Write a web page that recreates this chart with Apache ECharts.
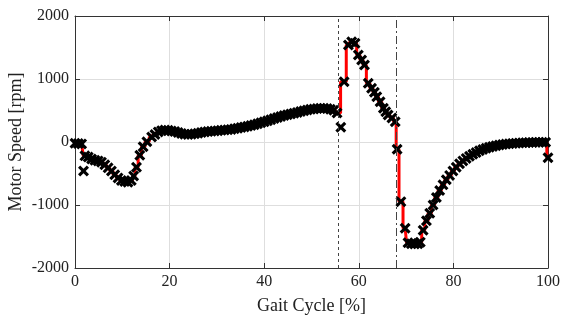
<!DOCTYPE html>
<html>
<head>
<meta charset="utf-8">
<script src="https://cdn.jsdelivr.net/npm/echarts@6/dist/echarts.min.js"></script>
<style>
  html, body { margin: 0; padding: 0; background: #fff; }
  #chart { width: 561px; height: 316px; }
</style>
</head>
<body>
<div id="chart"></div>
<script>
// gait cycle [%] of each sample
const gaitCycle = [
  0, 0.7, 1.4, 2.1, 2.8, 3.5, 4.2, 4.9, 5.6, 6.3, 7.0, 7.7, 8.4, 9.1, 9.8, 10.5, 11.2, 11.9,
  12.4, 13.0, 13.7, 14.4, 15.2, 16.2, 16.9, 17.6, 18.3, 19.0, 19.7, 20.4, 21.1, 21.8, 22.5,
  23.2, 23.9, 24.6, 25.3, 26.0, 26.7, 27.4, 28.1, 28.8, 29.5, 30.2, 30.9, 31.6, 32.3, 33.0,
  33.7, 34.4, 35.1, 35.8, 36.5, 37.2, 37.9, 38.6, 39.3, 40.0, 40.7, 41.4, 42.1, 42.8, 43.5,
  44.2, 44.9, 45.6, 46.3, 47.0, 47.7, 48.4, 49.1, 49.8, 50.5, 51.2, 51.9, 52.6, 53.3, 54.0,
  54.7, 55.4, 56.9, 57.8, 58.5, 59.2, 59.9, 60.6, 61.2, 62.0, 62.7, 63.3, 63.8, 64.5, 65.2,
  65.7, 66.2, 67.0, 67.7, 68.1, 68.9, 69.8, 70.4, 71.1, 71.8, 72.5, 73.0, 73.6, 74.3, 75.0,
  75.7, 76.4, 77.1, 77.8, 78.5, 79.2, 79.9, 80.6, 81.3, 82.0, 82.7, 83.4, 84.1, 84.8, 85.5,
  86.2, 86.9, 87.6, 88.3, 89.0, 89.7, 90.4, 91.1, 91.8, 92.5, 93.2, 93.9, 94.6, 95.3, 96.0,
  96.7, 97.4, 98.1, 98.8, 99.5, 100
];
// motor speed [rpm]
const motorSpeed = [
  -20, -25, -30, -220, -240, -270, -290, -300, -320, -360, -410, -460, -520, -570, -610, -625, -640, -610,
  -540, -400, -210, -75, 5, 80, 120, 160, 180, 190, 185, 175, 165, 150, 135,
  125, 120, 122, 130, 140, 150, 160, 165, 170, 175, 180, 185, 190, 195, 200,
  210, 220, 230, 240, 250, 262, 275, 290, 305, 320, 338, 355, 372, 390, 405,
  420, 432, 445, 458, 470, 485, 497, 508, 518, 525, 532, 535, 535, 530, 520,
  505, 460, 957, 1540, 1592, 1566, 1381, 1302, 1222, 932, 852, 790, 719, 640, 535,
  480, 429, 380, 322, -116, -947, -1370, -1600, -1615, -1620, -1615, -1590, -1400, -1250, -1130,
  -1000, -880, -770, -680, -600, -530, -460, -400, -345, -300, -260, -225, -195, -168, -140,
  -118, -100, -84, -70, -58, -48, -40, -33, -27, -22, -18, -15, -12, -10, -8,
  -6, -5, -4, -3, -3, -250
];
// stray samples off the red trace
const outlierCycle = [1.8, 56.2];
const outlierSpeed = [-460, 233];

const toeOffCycle = 55.6;
const phaseCycle = 68.0;

const xTicks = [0, 20, 40, 60, 80, 100];
const yTicks = [-2000, -1000, 0, 1000, 2000];

const trace = gaitCycle.map((x, i) => [x, motorSpeed[i]]);
const strays = outlierCycle.map((x, i) => [x, outlierSpeed[i]]);

const font = 'Liberation Serif, Times New Roman, serif';
const crossPath = 'path://M0,2L2,0L5,3L8,0L10,2L7,5L10,8L8,10L5,7L2,10L0,8L3,5Z';
const plain = v => String(v);

const frameAxis = {
  axisLine: { show: true, onZero: false, lineStyle: { color: '#333', width: 1 } },
  axisTick: { show: true, inside: true, length: 5, lineStyle: { color: '#333' } }
};

const chart = echarts.init(document.getElementById('chart'));
chart.setOption({
  animation: false,
  grid: { left: 75, right: 13, top: 16, bottom: 48, outerBoundsMode: 'none', containLabel: false },
  xAxis: [
    Object.assign({
      type: 'value', min: xTicks[0], max: xTicks[xTicks.length - 1], interval: 20,
      name: 'Gait Cycle [%]', nameLocation: 'middle', nameGap: 29, nameMoveOverlap: false,
      nameTextStyle: { fontFamily: font, fontSize: 18, color: '#222' },
      axisLabel: { fontFamily: font, fontSize: 16, color: '#222', margin: 6, formatter: plain },
      splitLine: { show: true, lineStyle: { color: '#dedede', width: 1 } }
    }, frameAxis),
    Object.assign({
      type: 'value', position: 'top', min: 0, max: 100, interval: 20,
      axisLabel: { show: false },
      splitLine: { show: false }
    }, frameAxis)
  ],
  yAxis: [
    Object.assign({
      type: 'value', min: yTicks[0], max: yTicks[yTicks.length - 1], interval: 1000,
      name: 'Motor Speed [rpm]', nameLocation: 'middle', nameGap: 50, nameMoveOverlap: false,
      nameTextStyle: { fontFamily: font, fontSize: 18, color: '#222' },
      axisLabel: { fontFamily: font, fontSize: 16, color: '#222', margin: 6, formatter: plain },
      splitLine: { show: true, lineStyle: { color: '#dedede', width: 1 } }
    }, frameAxis),
    Object.assign({
      type: 'value', position: 'right', min: -2000, max: 2000, interval: 1000,
      axisLabel: { show: false },
      splitLine: { show: false }
    }, frameAxis)
  ],
  series: [
    {
      type: 'line',
      data: trace,
      step: 'middle',
      showSymbol: false,
      lineStyle: { color: '#ff0000', width: 3 },
      z: 2,
      markLine: {
        silent: true,
        symbol: 'none',
        label: { show: false },
        data: [
          { xAxis: toeOffCycle, lineStyle: { color: '#444', width: 1, type: [3, 3] } },
          { xAxis: phaseCycle, lineStyle: { color: '#444', width: 1, type: [8, 3, 2, 3] } }
        ]
      }
    },
    {
      type: 'scatter',
      data: trace.concat(strays),
      symbol: crossPath,
      symbolSize: 11,
      itemStyle: { color: '#000', opacity: 1 },
      z: 3
    }
  ]
});
</script>
</body>
</html>
